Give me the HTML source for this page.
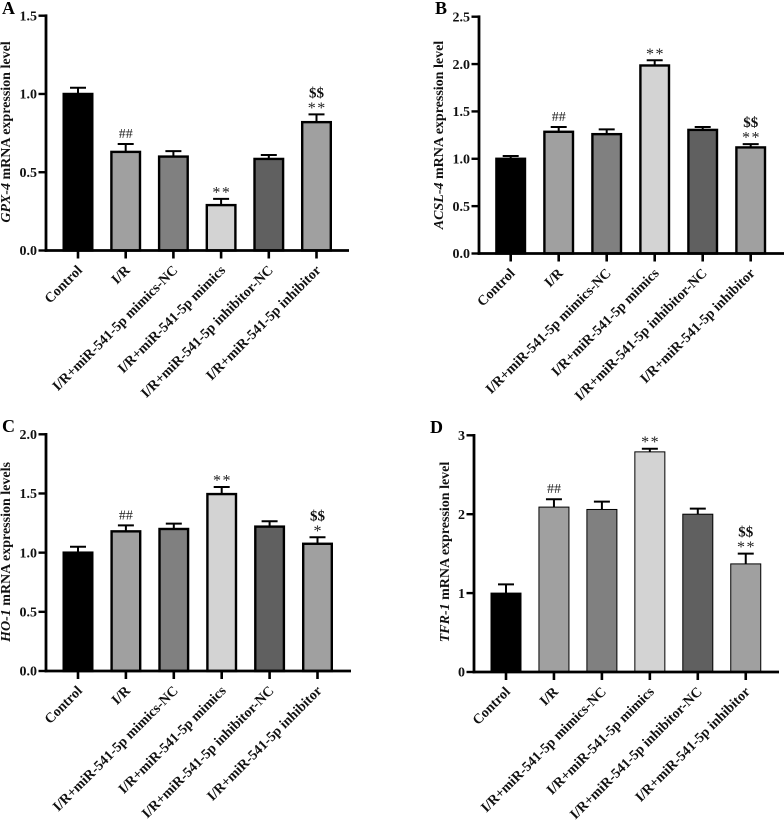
<!DOCTYPE html>
<html lang="en">
<head>
<meta charset="utf-8">
<title>mRNA expression levels</title>
<style>
html,body{margin:0;padding:0;background:#fff;}
svg{display:block;font-family:"Liberation Serif",serif;font-weight:bold;filter:blur(0.35px);}
</style>
</head>
<body>
<svg id="figure" width="784" height="822" viewBox="0 0 784 822" xmlns="http://www.w3.org/2000/svg"></svg>
<script>
const categories = ['Control', 'I/R', 'I/R+miR-541-5p mimics-NC', 'I/R+miR-541-5p mimics', 'I/R+miR-541-5p inhibitor-NC', 'I/R+miR-541-5p inhibitor'];

const valuesA = [1.0, 0.63, 0.60, 0.29, 0.585, 0.82];
const errorTopsA = [1.04, 0.68, 0.635, 0.33, 0.61, 0.87];
const ticksA = ['0.0', '0.5', '1.0', '1.5'];
const marksA = ['', '##', '', '**', '', '$$**'];

const valuesB = [1.0, 1.285, 1.26, 1.985, 1.305, 1.12];
const errorTopsB = [1.03, 1.335, 1.31, 2.04, 1.335, 1.155];
const ticksB = ['0.0', '0.5', '1.0', '1.5', '2.0', '2.5'];
const marksB = ['', '##', '', '**', '', '$$**'];

const valuesC = [1.0, 1.18, 1.2, 1.495, 1.22, 1.075];
const errorTopsC = [1.05, 1.23, 1.245, 1.555, 1.265, 1.13];
const ticksC = ['0.0', '0.5', '1.0', '1.5', '2.0'];
const marksC = ['', '##', '', '**', '', '$$*'];

const valuesD = [1.0, 2.09, 2.06, 2.79, 2.0, 1.37];
const errorTopsD = [1.11, 2.19, 2.16, 2.83, 2.07, 1.5];
const ticksD = ['0', '1', '2', '3'];
const marksD = ['', '##', '', '**', '', '$$**'];

const fills = ['#000000', '#a0a0a0', '#808080', '#d3d3d3', '#606060', '#a0a0a0'];

const panels = [
  {letter:'A', lx:2, ly:14, values:valuesA, tops:errorTopsA, ticks:ticksA, marks:marksA, gene:'GPX-4', rest:' mRNA expression level',
   ax:46, y0:250.5, yTop:15.7, first:78, step:47.7, xEnd:349, stroke:2.4, tx:10, ty:132},
  {letter:'B', lx:435, ly:14, values:valuesB, tops:errorTopsB, ticks:ticksB, marks:marksB, gene:'ACSL-4', rest:' mRNA expression level',
   ax:479, y0:253.5, yTop:16.7, first:510.7, step:48, xEnd:784, stroke:2.4, tx:443, ty:135},
  {letter:'C', lx:2, ly:432, values:valuesC, tops:errorTopsC, ticks:ticksC, marks:marksC, gene:'HO-1', rest:' mRNA expression levels',
   ax:46, y0:671, yTop:434.3, first:78, step:47.9, xEnd:351, stroke:2.4, tx:10, ty:552},
  {letter:'D', lx:430, ly:433, values:valuesD, tops:errorTopsD, ticks:ticksD, marks:marksD, gene:'TFR-1', rest:' mRNA expression level',
   ax:474, y0:672, yTop:435.3, first:506, step:47.95, xEnd:779, stroke:1, tx:449, ty:552}
];

const NS = 'http://www.w3.org/2000/svg';
const figure = document.getElementById('figure');

function make(tag, attrs, parent, text) {
  const node = document.createElementNS(NS, tag);
  for (const key in attrs) node.setAttribute(key, attrs[key]);
  if (text !== undefined) node.textContent = text;
  parent.appendChild(node);
  return node;
}

function drawMark(group, cx, errY, mark) {
  const hasDollar = mark.indexOf('$$') === 0;
  const rest = hasDollar ? mark.slice(2) : mark;
  if (hasDollar) {
    const dollar = make('text', {x:cx, y:errY - 17, 'text-anchor':'middle', 'font-size':15, fill:'#111'}, group, '$$');
    
    
  }
  if (rest === '##') {
    const hash = make('text', {x:cx, y:errY - 6, 'text-anchor':'middle', 'font-size':14, 'font-weight':'normal', fill:'#222'}, group, '##');
    
    
  } else if (rest) {
    const spacing = rest.length > 1 ? 1.5 : 0;
    const star = make('text', {x:cx + spacing / 2, y:errY - 1.5, 'text-anchor':'middle', 'font-size':16, 'font-weight':'normal', 'letter-spacing':spacing, fill:'#222'}, group, rest);
    
    
  }
}

panels.forEach(function (p) {
  const group = make('g', {}, figure);
  
  

  const maxTick = parseFloat(p.ticks[p.ticks.length - 1]);
  const yScale = function (v) { return p.y0 - (v / maxTick) * (p.y0 - p.yTop); };
  const xScale = function (i) { return p.first + i * p.step; };

  const letter = make('text', {x:p.lx, y:p.ly, 'font-size':18, fill:'#000'}, group, p.letter);
  
  

  const title = make('text', {transform:'translate(' + p.tx + ' ' + p.ty + ') rotate(-90)', 'text-anchor':'middle', 'font-size':14, fill:'#111'}, group);
  
  
  make('tspan', {'font-style':'italic'}, title, p.gene);
  make('tspan', {}, title, p.rest);

  p.values.forEach(function (v, i) {
    const cx = xScale(i);
    const inset = p.stroke / 2;
    const yv = yScale(v);
    const yt = yScale(p.tops[i]);

    const err = make('path', {d:'M' + cx + ' ' + yv + 'V' + yt + 'M' + (cx - 8) + ' ' + yt + 'H' + (cx + 8), stroke:'#000', 'stroke-width':2, fill:'none'}, group);
    
    

    const bar = make('rect', {x:cx - 15.5 + inset, y:yv, width:31 - p.stroke, height:p.y0 - yv, fill:fills[i], stroke:'#000', 'stroke-width':p.stroke}, group);
    
    

    if (p.marks[i]) drawMark(group, cx, yt, p.marks[i]);

    const xTick = make('line', {x1:cx, x2:cx, y1:p.y0, y2:p.y0 + 8, stroke:'#000', 'stroke-width':2.6}, group);
    
    

    const ax = cx + 5;
    const ay = p.y0 + 20.5;
    const label = make('text', {transform:'translate(' + ax + ' ' + ay + ') rotate(-45)', 'text-anchor':'end', 'font-size':14.1, fill:'#111'}, group, categories[i]);
    
    
  });

  const yAxis = make('line', {x1:p.ax, x2:p.ax, y1:p.yTop - 1.3, y2:p.y0 + 1.3, stroke:'#000', 'stroke-width':2.8}, group);
  
  

  const xAxis = make('line', {x1:p.ax - 1.4, x2:p.xEnd, y1:p.y0, y2:p.y0, stroke:'#000', 'stroke-width':2.8}, group);
  
  

  p.ticks.forEach(function (t) {
    const y = yScale(parseFloat(t));
    const yTick = make('line', {x1:p.ax - 7.5, x2:p.ax, y1:y, y2:y, stroke:'#000', 'stroke-width':2.4}, group);
    
    

    const tickLabel = make('text', {x:p.ax - 9, y:y + 4.7, 'text-anchor':'end', 'font-size':14, fill:'#111'}, group, t);
    
    
  });
});
</script>
</body>
</html>
